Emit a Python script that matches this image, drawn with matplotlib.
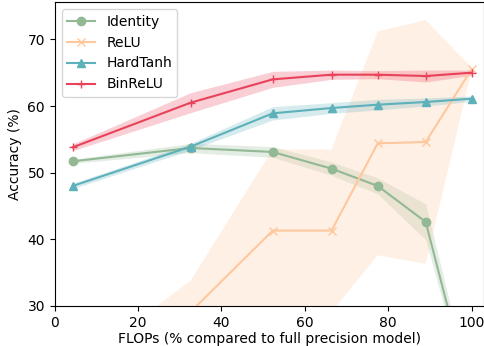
import numpy as np
import matplotlib
matplotlib.use("Agg")
import matplotlib.pyplot as plt

# FLOPs (% of full precision model)
flops = [4.3, 32.6, 52.3, 66.4, 77.5, 89.0, 100.0]

identity_mean = [51.7, 53.7, 53.1, 50.6, 48.0, 42.6, 16.0]
identity_std = [0.3, 0.7, 0.8, 1.0, 1.2, 2.7, 1.0]

relu_mean = [15.0, 29.1, 41.3, 41.3, 54.4, 54.6, 65.5]
relu_std = [5.5, 4.7, 12.2, 12.2, 16.8, 18.3, 0.3]

hardtanh_mean = [48.0, 53.9, 58.9, 59.7, 60.2, 60.6, 61.1]
hardtanh_std = [0.4, 0.5, 1.0, 0.8, 0.8, 0.6, 0.4]

binrelu_mean = [53.8, 60.5, 64.0, 64.7, 64.7, 64.5, 65.0]
binrelu_std = [0.5, 1.5, 1.2, 0.7, 0.6, 0.9, 0.4]

series = [
    ("Identity", identity_mean, identity_std, "#93b894", "o"),
    ("ReLU", relu_mean, relu_std, "#ffc79c", "x"),
    ("HardTanh", hardtanh_mean, hardtanh_std, "#5eb0ba", "^"),
    ("BinReLU", binrelu_mean, binrelu_std, "#e8435a", "+"),
]

fig = plt.figure(figsize=(4.85, 3.46), dpi=100)
ax = fig.add_axes([0.113, 0.116, 0.885, 0.878])

x = np.array(flops)
for name, m, s, c, mk in series:
    m = np.array(m)
    s = np.array(s)
    ax.fill_between(x, m - s, m + s, color=c, alpha=0.25, linewidth=0)
    ax.plot(x, m, color=c, marker=mk, label=name, linewidth=1.5, markersize=6)

ax.set_xlim(0, 103)
ax.set_ylim(30, 75.6)
ax.set_xticks([0, 20, 40, 60, 80, 100])
ax.set_yticks([30, 40, 50, 60, 70])
ax.set_xlabel("FLOPs (% compared to full precision model)", labelpad=1.5)
ax.set_ylabel("Accuracy (%)")
ax.legend(loc="upper left")

fig.savefig("out.png", dpi=100)
